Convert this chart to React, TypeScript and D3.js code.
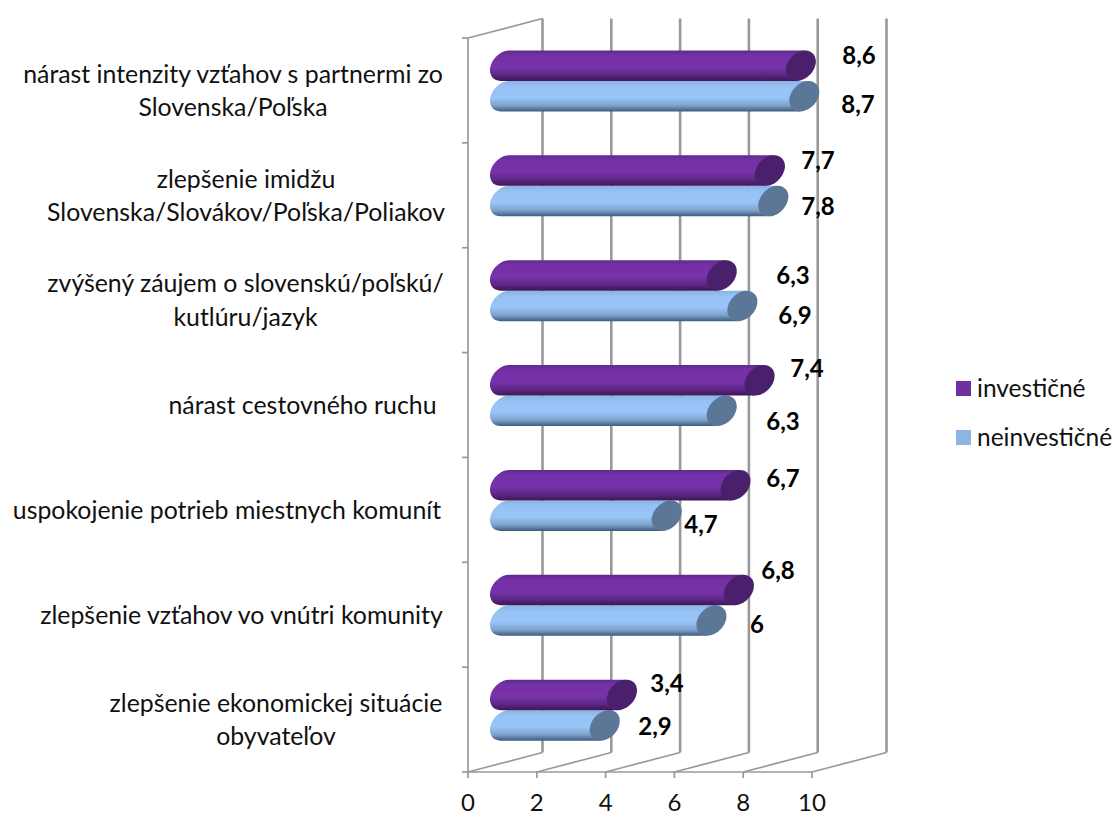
import React from "react";
import * as d3 from "d3";

const categories = [
  "nárast intenzity vzťahov s partnermi zo|Slovenska/Poľska",
  "zlepšenie imidžu|Slovenska/Slovákov/Poľska/Poliakov",
  "zvýšený záujem o slovenskú/poľskú/|kutlúru/jazyk",
  "nárast cestovného ruchu",
  "uspokojenie potrieb miestnych komunít",
  "zlepšenie vzťahov vo vnútri komunity",
  "zlepšenie ekonomickej situácie|obyvateľov",
];
const investicne = [8.6, 7.7, 6.3, 7.4, 6.7, 6.8, 3.4];
const neinvesticne = [8.7, 7.8, 6.9, 6.3, 4.7, 6, 2.9];
const xTicks = [0, 2, 4, 6, 8, 10];

// label centres as placed in the reference (layout, not data)
const labelCentreA: [number, number][] = [[859, 55], [818, 160], [793, 275], [807, 368], [783, 478], [778, 570], [667, 683]];
const labelCentreB: [number, number][] = [[858, 104], [818, 206], [795, 315], [783, 421], [701, 524], [757, 624], [655, 726]];
const catCentres = [233, 246, 245.5, 302.5, 227, 241.5, 276];

const FONT = "Lato, Carlito, Calibri, sans-serif";
const W = 1115, H = 816;
const x = d3.scaleLinear().domain([0, 10]).range([468, 812]);
const y = d3.scaleLinear().domain([0, 7]).range([38, 772]);
const DX = 74.5, DY = -19.5;
const BAR_H = 30.5, RX = 14.4, SKEW_DEG = 16;
const BAR_X = 37;

function Cyl({ v, cy, grad, cap }: { v: number; cy: number; grad: string; cap: string }) {
  const x0 = x(0) + BAR_X, x1 = x(v) + BAR_X;
  const r = BAR_H / 2;
  const d = `M${x0},${-r} A${RX},${r} 0 0 0 ${x0},${r} L${x1},${r} L${x1},${-r} Z`;
  return (
    <g transform={`translate(${x0},${cy}) skewX(${-SKEW_DEG}) translate(${-x0},0)`}>
      <path d={d} fill={grad} />
      <ellipse cx={x1} cy={0} rx={RX} ry={r} fill={cap} />
    </g>
  );
}

export default function App() {
  const band = y(1) - y(0);
  return (
    <svg width={W} height={H} style={{ position: "absolute", left: 0, top: 0, background: "#fff" }} fontFamily={FONT}>
      <defs>
        <linearGradient id="gp" x1="0" y1="0" x2="0" y2="1">
          <stop offset="0" stopColor="#5f2a8a" />
          <stop offset="0.15" stopColor="#7430a6" />
          <stop offset="0.55" stopColor="#7832aa" />
          <stop offset="0.8" stopColor="#5e2786" />
          <stop offset="1" stopColor="#3a1855" />
        </linearGradient>
        <linearGradient id="gb" x1="0" y1="0" x2="0" y2="1">
          <stop offset="0" stopColor="#8ab3e2" />
          <stop offset="0.2" stopColor="#96c2f5" />
          <stop offset="0.55" stopColor="#98c4f7" />
          <stop offset="0.8" stopColor="#7fa3cd" />
          <stop offset="1" stopColor="#3e5a7e" />
        </linearGradient>
      </defs>

      {/* back-wall gridlines and floor */}
      {xTicks.map((t) => (
        <g key={t} fill="none" stroke="#999">
          <line x1={x(t) + DX} x2={x(t) + DX} y1={y(0) + DY} y2={y(7) + DY} strokeWidth={2.6} />
          <line x1={x(t)} y1={y(7)} x2={x(t) + DX} y2={y(7) + DY} strokeWidth={1.7} />
          <line x1={x(t)} x2={x(t)} y1={y(7)} y2={y(7) + 6} strokeWidth={1.7} />
          <text x={x(t)} y={810.5} textAnchor="middle" fontSize={24} fill="#111" stroke="none">{t}</text>
        </g>
      ))}
      {/* left wall */}
      <g stroke="#999" strokeWidth={1.7} fill="none">
        <line x1={x(0)} x2={x(0)} y1={y(0)} y2={y(7)} />
        <line x1={x(0)} y1={y(0)} x2={x(0) + DX} y2={y(0) + DY} />
        <line x1={x(0)} x2={x(10)} y1={y(7)} y2={y(7)} />
        {d3.range(8).map((i) => (
          <line key={i} x1={x(0) - 6} x2={x(0)} y1={y(i)} y2={y(i)} />
        ))}
      </g>

      {/* cylinders */}
      {categories.map((_, i) => (
        <g key={i}>
          <Cyl v={neinvesticne[i]} cy={y(i) + 12.5 + BAR_H * 1.5} grad="url(#gb)" cap="#5c7698" />
          <Cyl v={investicne[i]} cy={y(i) + 12.5 + BAR_H / 2} grad="url(#gp)" cap="#4a1f6c" />
        </g>
      ))}

      {/* category labels */}
      {categories.map((c, i) => {
        const lines = c.split("|");
        const cy = y(i) + band / 2;
        return (
          <text key={i} fontSize={24.85} fill="#111" textAnchor="middle">
            {lines.map((l, k) => (
              <tspan key={k} x={catCentres[i]} y={cy + (k - (lines.length - 1) / 2) * 33.5 + 9}>{l}</tspan>
            ))}
          </text>
        );
      })}

      {/* value labels */}
      {categories.map((_, i) => (
        <g key={i} fontSize={24} fontWeight={700} fill="#000" textAnchor="middle">
          <text x={labelCentreA[i][0]} y={labelCentreA[i][1] + 8.5}>{String(investicne[i]).replace(".", ",")}</text>
          <text x={labelCentreB[i][0]} y={labelCentreB[i][1] + 8.5}>{String(neinvesticne[i]).replace(".", ",")}</text>
        </g>
      ))}

      {/* legend */}
      <rect x={956} y={381} width={15} height={15} fill="#7030a0" />
      <text x={977} y={397} fontSize={24.5} fill="#111">investičné</text>
      <rect x={956} y={430} width={15} height={15} fill="#8db4e2" />
      <text x={977} y={446} fontSize={24.5} fill="#111">neinvestičné</text>
    </svg>
  );
}
